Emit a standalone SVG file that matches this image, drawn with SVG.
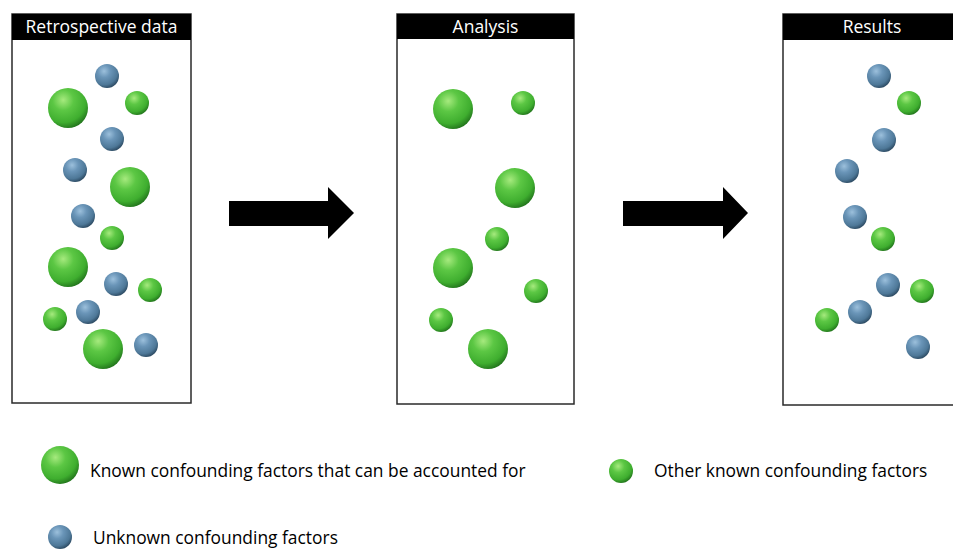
<svg xmlns="http://www.w3.org/2000/svg" width="953" height="549" viewBox="0 0 953 549">
<defs>
<radialGradient id="gG" cx="0.38" cy="0.3" r="0.75">
<stop offset="0" stop-color="#a6ea7e"/>
<stop offset="0.35" stop-color="#5cc744"/>
<stop offset="0.75" stop-color="#3fae2f"/>
<stop offset="1" stop-color="#1f6e1a"/>
</radialGradient>
<radialGradient id="gB" cx="0.38" cy="0.3" r="0.75">
<stop offset="0" stop-color="#9cc0dc"/>
<stop offset="0.35" stop-color="#6a95b8"/>
<stop offset="0.75" stop-color="#4e7898"/>
<stop offset="1" stop-color="#27435a"/>
</radialGradient>
</defs>
<style>
.box{fill:#fff;stroke:#2a2a2a;stroke-width:1.5}
.hd{fill:#000}
.ht{fill:#fff;font-family:"Open Sans","Liberation Sans",sans-serif;font-size:17.5px;text-anchor:middle}
.lt{fill:#000;font-family:"Open Sans","Liberation Sans",sans-serif;font-size:17.4px}
.g{fill:url(#gG)}
.b{fill:url(#gB)}
.arr{fill:#000}
</style>
<rect width="953" height="549" fill="#fff"/>
<g id="panel-retrospective">
<rect class="box" x="12" y="14" width="179" height="389"/>
<rect class="hd" x="12" y="14" width="179" height="26"/>
<text class="ht" x="101.5" y="33">Retrospective data</text>
<circle class="b" cx="107" cy="76" r="12"/>
<circle class="g" cx="68" cy="108" r="20"/>
<circle class="g" cx="137" cy="103" r="12"/>
<circle class="b" cx="112" cy="139" r="12"/>
<circle class="b" cx="75" cy="170" r="12"/>
<circle class="g" cx="130" cy="187" r="20"/>
<circle class="b" cx="83" cy="216" r="12"/>
<circle class="g" cx="112" cy="238" r="12"/>
<circle class="g" cx="68" cy="267" r="20"/>
<circle class="b" cx="116" cy="284" r="12"/>
<circle class="g" cx="150" cy="290" r="12"/>
<circle class="b" cx="88" cy="312" r="12"/>
<circle class="g" cx="55" cy="319" r="12"/>
<circle class="g" cx="103" cy="349" r="20"/>
<circle class="b" cx="146" cy="345" r="12"/>
</g>
<g id="panel-analysis">
<rect class="box" x="397" y="14" width="177" height="390"/>
<rect class="hd" x="397" y="14" width="177" height="25"/>
<text class="ht" x="485.5" y="33">Analysis</text>
<circle class="g" cx="453" cy="109" r="20"/>
<circle class="g" cx="523" cy="103" r="12"/>
<circle class="g" cx="515" cy="188" r="20"/>
<circle class="g" cx="497" cy="239" r="12"/>
<circle class="g" cx="453" cy="268" r="20"/>
<circle class="g" cx="536" cy="291" r="12"/>
<circle class="g" cx="441" cy="320" r="12"/>
<circle class="g" cx="488" cy="349" r="20"/>
</g>
<g id="panel-results">
<rect class="box" x="783" y="14" width="180" height="391"/>
<rect class="hd" x="783" y="14" width="180" height="26"/>
<text class="ht" x="872" y="33">Results</text>
<circle class="b" cx="879" cy="76" r="12"/>
<circle class="g" cx="909" cy="103" r="12"/>
<circle class="b" cx="884" cy="140" r="12"/>
<circle class="b" cx="847" cy="171" r="12"/>
<circle class="b" cx="855" cy="217" r="12"/>
<circle class="g" cx="883" cy="239" r="12"/>
<circle class="b" cx="888" cy="285" r="12"/>
<circle class="g" cx="922" cy="291" r="12"/>
<circle class="b" cx="860" cy="312" r="12"/>
<circle class="g" cx="827" cy="320" r="12"/>
<circle class="b" cx="918" cy="347" r="12"/>
</g>
<g id="connectors">
<path class="arr" d="M229,201 H328 V187 L354,213 L328,239 V226 H229 Z"/>
<path class="arr" d="M623,201 H723 V187 L748,213 L723,239 V226 H623 Z"/>
</g>
<g id="legend">
<g id="legend-known">
<circle class="g" cx="60" cy="465" r="19"/>
<text class="lt" x="90" y="477">Known confounding factors that can be accounted for</text>
</g>
<g id="legend-other">
<circle class="g" cx="621" cy="471" r="12"/>
<text class="lt" x="654" y="477">Other known confounding factors</text>
</g>
<g id="legend-unknown">
<circle class="b" cx="60" cy="537" r="12"/>
<text class="lt" x="93" y="543.5">Unknown confounding factors</text>
</g>
</g>
</svg>
